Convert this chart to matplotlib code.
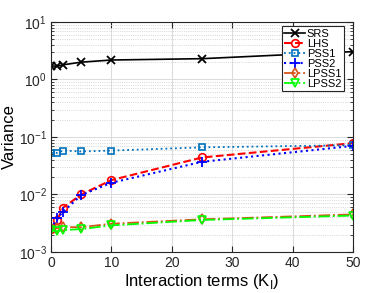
import matplotlib
matplotlib.use("Agg")
import matplotlib.pyplot as plt
import numpy as np

plt.rcParams['font.family'] = ['Liberation Sans', 'DejaVu Sans']

x = [0, 1, 2, 5, 10, 25, 50]
srs = [1.72, 1.70, 1.80, 2.0, 2.18, 2.3, 3.05]
lhs = [0.0025, 0.0036, 0.0059, 0.0100, 0.0178, 0.044, 0.078]
pss1 = [0.053, 0.053, 0.058, 0.056, 0.058, 0.066, 0.072]
pss2 = [0.0025, 0.0039, 0.0050, 0.0098, 0.016, 0.037, 0.070]
lpss1 = [0.0026, 0.0026, 0.0027, 0.0027, 0.0031, 0.0037, 0.0045]
lpss2 = [0.0024, 0.0023, 0.0024, 0.0025, 0.0029, 0.0036, 0.0043]
labels = ['SRS', 'LHS', 'PSS1', 'PSS2', 'LPSS1', 'LPSS2']

fig = plt.figure(figsize=(3.9, 2.93), dpi=100)
ax = fig.add_axes([0.131, 0.14, 0.774, 0.785])

ax.plot(x, srs, color='black', ls='-', marker='x', ms=5.5, mew=1.3, lw=1.2, label=labels[0])
ax.plot(x, lhs, color='red', ls='--', marker='o', ms=5.5, mfc='none', mew=1.2, lw=1.5, label=labels[1])
ax.plot(x, pss1, color=(0, 0.447, 0.741), ls=':', marker='s', ms=4.5, mfc='none', mew=1.2, lw=1.3, label=labels[2])
ax.plot(x, pss2, color='blue', ls=':', marker='+', ms=7, mew=1.3, lw=1.5, label=labels[3])
ax.plot(x, lpss1, color=(0.85, 0.325, 0.098), ls='-.', marker='d', ms=5.5, mfc='none', mew=1.2, lw=1.3, label=labels[4])
ax.plot(x, lpss2, color=(0, 1, 0), ls='-.', marker='v', ms=6, mfc='none', mew=1.2, lw=1.3, label=labels[5])

ax.set_yscale('log')
ax.set_xlim(0, 50)
ax.set_ylim(1e-3, 10)
ax.set_xticks([0, 10, 20, 30, 40, 50])
ax.grid(True, which='major', color='#dcdcdc', lw=0.8, ls='-')
ax.grid(True, which='minor', color='#c8c8c8', lw=0.6, ls=':')
ax.set_axisbelow(True)
ax.tick_params(which='both', direction='in', top=True, right=True, labelsize=10, colors='#262626')
ax.tick_params(which='major', length=4, pad=3)
ax.tick_params(which='minor', length=2)
for s in ax.spines.values():
    s.set_color('#262626')
    s.set_linewidth(0.8)

ax.set_xlabel('Interaction terms (K$_\\mathregular{I}$)', fontsize=12, labelpad=1)
ax.set_ylabel('Variance', fontsize=12, labelpad=1)

leg = ax.legend(loc='upper right', fontsize=8, handlelength=1.9, handletextpad=0.15,
                labelspacing=0.0, borderpad=0.2, borderaxespad=0.3,
                fancybox=False, framealpha=1, edgecolor='#262626',
                bbox_to_anchor=(0.98, 0.995))
leg.get_frame().set_linewidth(0.8)

fig.savefig('out.png', dpi=100)
